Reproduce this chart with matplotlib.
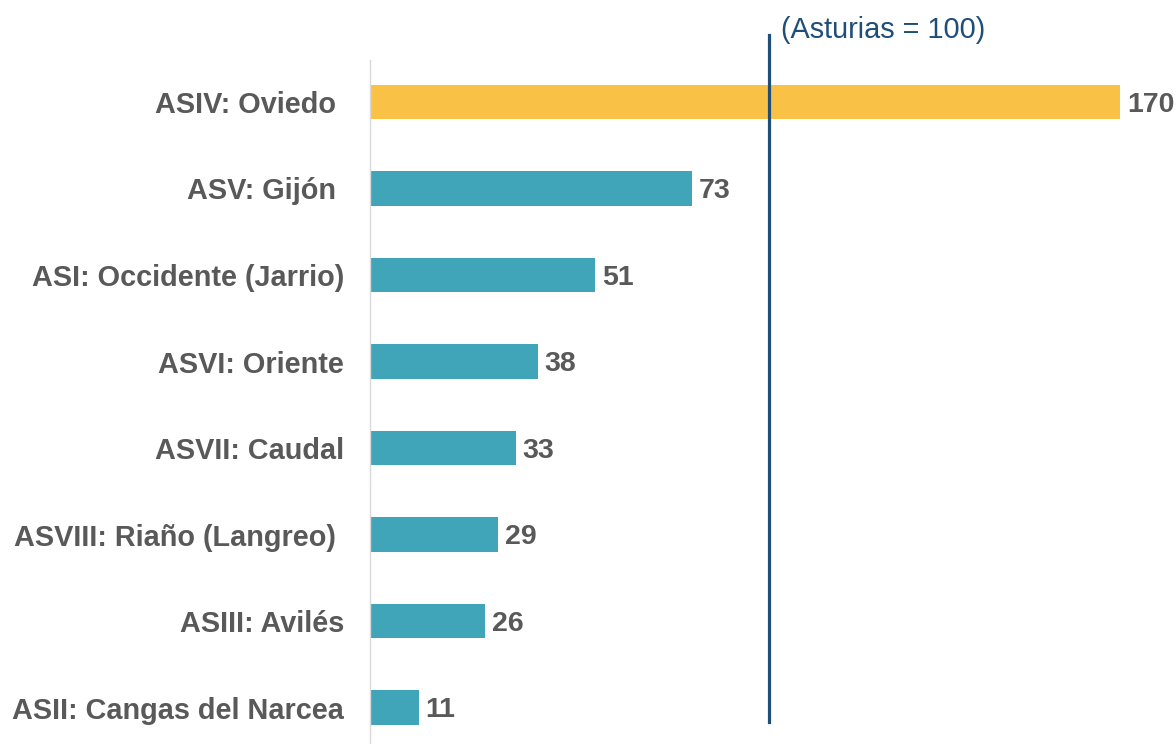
import matplotlib.pyplot as plt

# data
areas = ["ASIV: Oviedo ", "ASV: Gijón ", "ASI: Occidente (Jarrio)", "ASVI: Oriente",
         "ASVII: Caudal", "ASVIII: Riaño (Langreo) ", "ASIII: Avilés", "ASII: Cangas del Narcea"]
values = [170, 73, 51, 38, 33, 29, 26, 11]
ref_x = 90.5  # where the "Asturias = 100" line sits on the drawn scale
ref_label = "(Asturias = 100)"

yellow = "#F9C247"
teal = "#41A5B9"
grey = "#595959"
navy = "#1F4E79"

plt.rcParams['font.family'] = ['Liberation Sans', 'DejaVu Sans']

fig = plt.figure(figsize=(11.76, 7.44), dpi=100)
ax = fig.add_axes([370 / 1176, 0, 750 / 1176, 1 - 60 / 744])

colors = [yellow] + [teal] * (len(values) - 1)
ypos = list(range(len(values)))
ax.barh(ypos, values, height=0.40, color=colors)

for y, v in zip(ypos, values):
    ax.text(v + 1.6, y + 0.03, str(v), va="center", ha="left", fontsize=20.5,
            fontweight="bold", color=grey)

ax.set_yticks(ypos)
ax.set_yticklabels(areas, fontsize=20.8, fontweight="bold", color=grey)
ax.tick_params(axis="y", length=0, pad=18.5)
ax.set_xticks([])
ax.set_xlim(0, 170)
ax.set_ylim(7.42, -0.485)

for s in ["top", "right", "bottom"]:
    ax.spines[s].set_visible(False)
ax.spines["left"].set_color("#D9D9D9")
ax.spines["left"].set_linewidth(1)

# reference line
ax.plot([ref_x, ref_x], [-0.77, 7.17], color=navy, linewidth=2.3, clip_on=False)
ax.text(ref_x + 2.6, -0.83, ref_label, fontsize=20.8, color=navy, ha="left", va="center")

fig.savefig("out.png", dpi=100)
